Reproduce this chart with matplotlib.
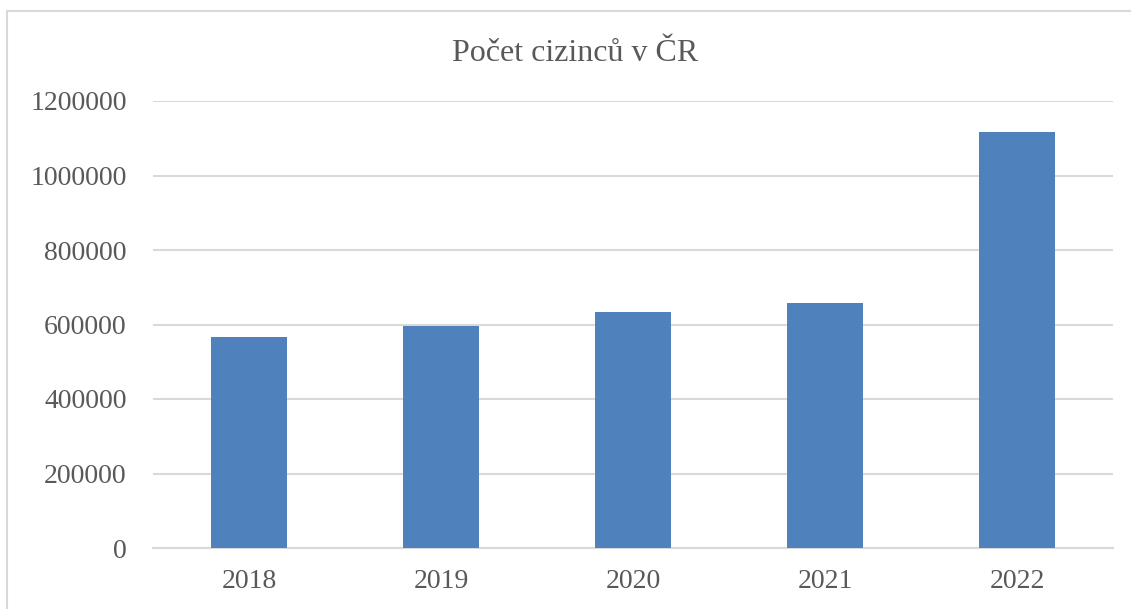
import matplotlib.pyplot as plt
from matplotlib.patches import Rectangle

years = ['2018', '2019', '2020', '2021', '2022']
foreigners = [566000, 595000, 634000, 659000, 1116000]
yticks = [0, 200000, 400000, 600000, 800000, 1000000, 1200000]

plt.rcParams['font.family'] = ['Liberation Serif', 'DejaVu Serif']
text_col = '#595959'
grid_col = '#D9D9D9'

fig = plt.figure(figsize=(11.31, 6.09), dpi=100)
ax = fig.add_axes([153/1131, 1 - 548/609, 960/1131, 447/609])

ax.bar(years, foreigners, width=0.4, color='#4F81BD', zorder=3)
ax.set_ylim(0, 1200000)
ax.set_xlim(-0.5, 4.5)
ax.set_yticks(yticks)
ax.set_yticklabels([str(v) for v in yticks])
ax.grid(axis='y', color=grid_col, linewidth=1.5, zorder=0)

for s in ['top', 'right', 'left']:
    ax.spines[s].set_visible(False)
ax.spines['bottom'].set_color(grid_col)
ax.spines['bottom'].set_linewidth(1.5)
ax.tick_params(axis='both', length=0, colors=text_col, labelsize=20)
ax.tick_params(axis='y', pad=19)
ax.tick_params(axis='x', pad=15)

# title centred on the whole chart, not the plot area
fig.text(575/1131, 1 - 61/609, 'Počet cizinců v ČR',
         ha='center', va='baseline', fontsize=23, color=text_col)

# outer chart frame (cut off at right and bottom)
fig.patches.append(Rectangle((7/1131, -0.05), 1.1, 1 - 11/609 + 0.05,
                             transform=fig.transFigure, fill=False,
                             edgecolor=grid_col, linewidth=1.5))

fig.savefig('out.png', dpi=100)
